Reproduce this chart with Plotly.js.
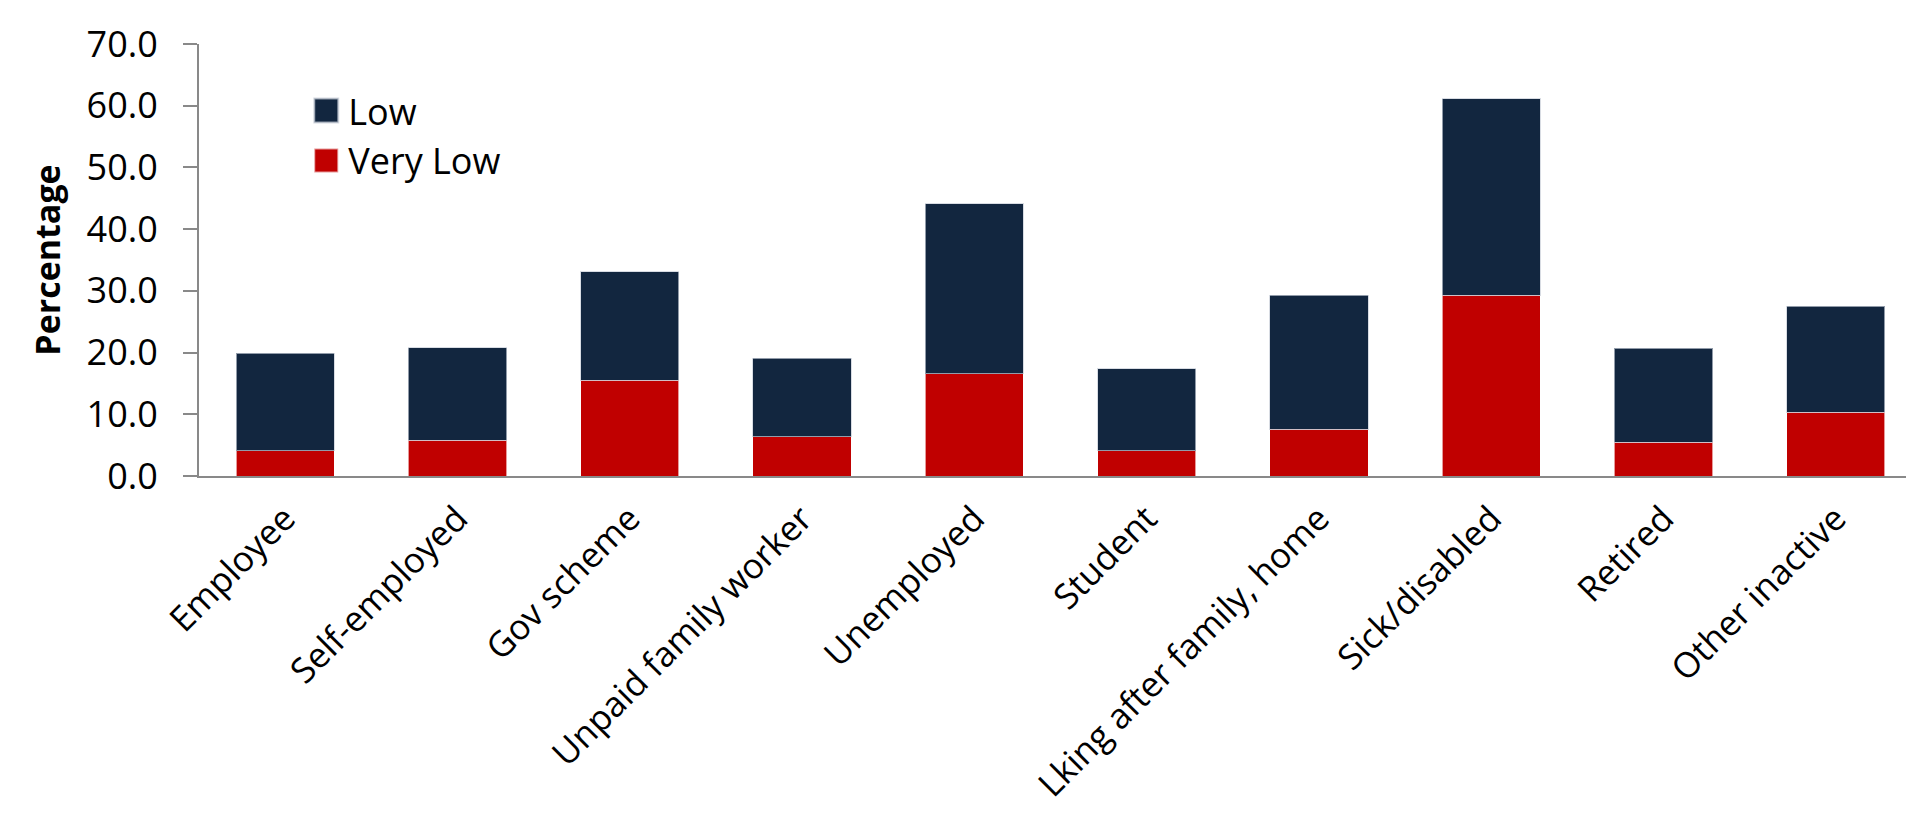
<!DOCTYPE html>
<html>
<head>
<meta charset="utf-8">
<script src="https://cdn.plot.ly/plotly-3.0.1.min.js"></script>
<style>
  html, body { margin: 0; padding: 0; background: #ffffff; }
  #chart { width: 1906px; height: 822px; }
</style>
</head>
<body>
<div id="chart"></div>
<script>
// Categories (x axis)
const categories = [
  "Employee", "Self-employed", "Gov scheme", "Unpaid family worker", "Unemployed",
  "Student", "Lking after family, home", "Sick/disabled", "Retired", "Other inactive"
];
// Series values (percentages, stacked)
const veryLow = [4.1, 5.8, 15.5, 6.4, 16.6, 4.1, 7.6, 29.3, 5.5, 10.3];
const low     = [15.8, 15.0, 17.6, 12.7, 27.5, 13.3, 21.7, 31.8, 15.2, 17.2];
// Series names
const seriesNames = ["Very Low", "Low"];
// Y tick values
const yTicks = [0, 10, 20, 30, 40, 50, 60, 70];

const FONT = "Open Sans, Liberation Sans, sans-serif";
const AXIS_GREY = "#898989";

const traces = [
  {
    type: "bar",
    name: seriesNames[0],
    x: categories,
    y: veryLow,
    marker: { color: "#C00000", line: { color: "rgba(255,255,255,0.6)", width: 1 } },
    hoverinfo: "x+y+name"
  },
  {
    type: "bar",
    name: seriesNames[1],
    x: categories,
    y: low,
    marker: { color: "#12263F", line: { color: "rgba(200,205,215,0.7)", width: 1 } },
    hoverinfo: "x+y+name"
  }
];

const layout = {
  width: 1906,
  height: 822,
  margin: { l: 199, r: 0, t: 44, b: 346, pad: 0 },
  paper_bgcolor: "#ffffff",
  plot_bgcolor: "#ffffff",
  barmode: "stack",
  bargap: 0.43,
  showlegend: true,
  legend: {
    x: 0.064, y: 0.915, xanchor: "left", yanchor: "top",
    font: { family: FONT, size: 36, color: "#000000" },
    bgcolor: "rgba(255,255,255,0)",
    traceorder: "reversed"
  },
  xaxis: {
    type: "category",
    categoryorder: "array",
    categoryarray: categories,
    range: [-0.5, 9.407],
    tickangle: -45,
    tickfont: { family: FONT, size: 35, color: "#000000" },
    ticklabelstandoff: 6,
    showline: true,
    linecolor: AXIS_GREY,
    linewidth: 2,
    ticks: "",
    showgrid: false,
    zeroline: false,
    automargin: false
  },
  yaxis: {
    range: [0, 70],
    tickvals: yTicks,
    tickformat: ".1f",
    tickfont: { family: FONT, size: 36, color: "#000000" },
    ticks: "outside",
    ticklen: 14,
    tickwidth: 2,
    tickcolor: AXIS_GREY,
    ticklabelstandoff: 18,
    showline: true,
    linecolor: AXIS_GREY,
    linewidth: 2,
    showgrid: false,
    zeroline: false,
    automargin: false,
    title: {
      text: "Percentage",
      font: { family: FONT, size: 34, color: "#000000", weight: "bold" },
      standoff: 16
    }
  }
};

Plotly.newPlot("chart", traces, layout, { displayModeBar: false, staticPlot: true }).then(function (gd) {
  // Enlarge legend swatches to match the reference's larger squares
  gd.querySelectorAll(".legendpoints path").forEach(function (p) {
    const t = p.getAttribute("transform") || "";
    p.setAttribute("transform", t + " translate(-2,0) scale(2)");
  });
});
</script>
</body>
</html>
